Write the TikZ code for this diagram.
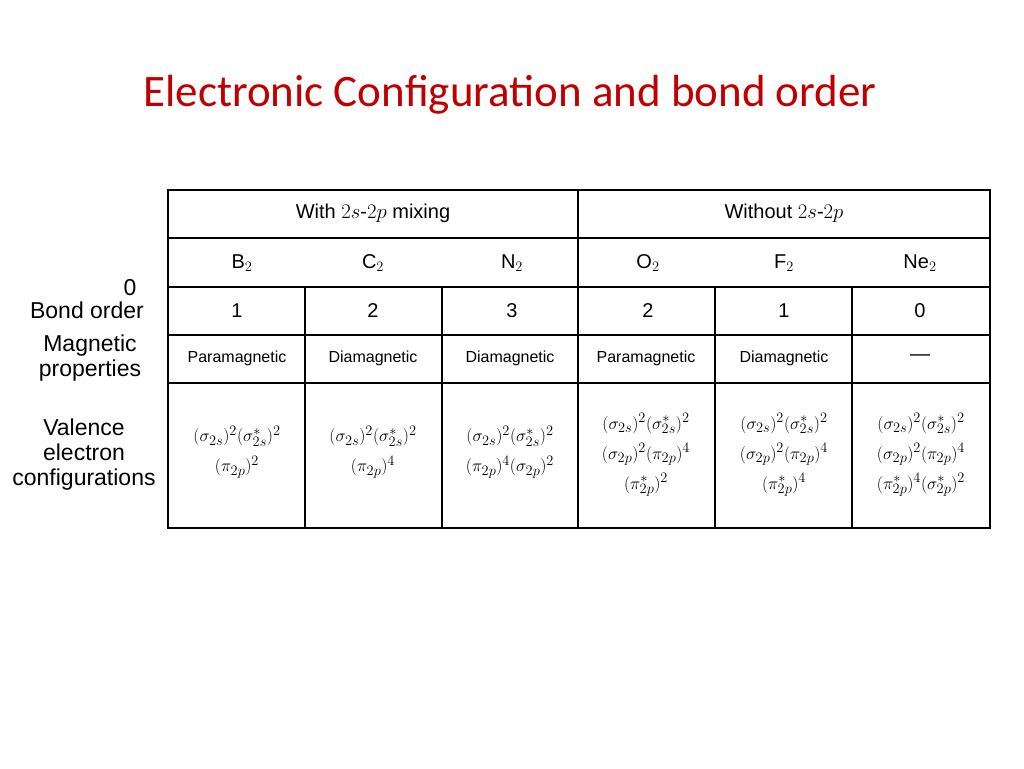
\documentclass[tikz,border=0pt]{standalone}
\usepackage{fontspec}
\setmainfont{Liberation Sans}
\newfontfamily\titlefont{Carlito}
\begin{document}
\begin{tikzpicture}[x=1pt,y=-1pt,
  cell/.style={anchor=center,font=\fontsize{20}{24}\selectfont},
  small/.style={anchor=center,font=\fontsize{16}{18}\selectfont},
  conf/.style={anchor=center,align=center,font=\fontsize{19}{30}\selectfont},
  lab/.style={anchor=center,align=center,font=\fontsize{23}{26}\selectfont}]
\useasboundingbox (0,0) rectangle (1024,768);
\node[font=\titlefont\fontsize{45}{50}\selectfont,text={rgb,255:red,192;green,0;blue,0}] (title) at (510,95) {Electronic Configuration and bond order};
% grid
\draw[line width=2pt] (168,190) rectangle (990,528);
\draw[line width=1.6pt] (168,238) -- (990,238);
\draw[line width=1.6pt] (168,287) -- (990,287);
\draw[line width=1.6pt] (168,335) -- (990,335);
\draw[line width=1.6pt] (168,383) -- (990,383);
\draw[line width=1.6pt] (578,190) -- (578,528);
\foreach \x in {305,442,715,852} \draw[line width=1.6pt] (\x,287) -- (\x,528);
% headers
\node[cell] (h1) at (373,213) {With $2s$-$2p$ mixing};
\node[cell] (h2) at (784,213) {Without $2s$-$2p$};
\node[cell] (m1) at (242,263) {B$_2$};
\node[cell] (m2) at (373,263) {C$_2$};
\node[cell] (m3) at (512,263) {N$_2$};
\node[cell] (m4) at (648,263) {O$_2$};
\node[cell] (m5) at (784,263) {F$_2$};
\node[cell] (m6) at (920,263) {Ne$_2$};
\node[cell] (b1) at (237,311) {1};
\node[cell] (b2) at (373,311) {2};
\node[cell] (b3) at (512,311) {3};
\node[cell] (b4) at (648,311) {2};
\node[cell] (b5) at (784,311) {1};
\node[cell] (b6) at (920,311) {0};
\node[small] (p1) at (237,358) {Paramagnetic};
\node[small] (p2) at (373,358) {Diamagnetic};
\node[small] (p3) at (510,358) {Diamagnetic};
\node[small] (p4) at (646,358) {Paramagnetic};
\node[small] (p5) at (784,358) {Diamagnetic};
\node[cell] (p6) at (920,358) {---};
\node[conf] (c1) at (237,452) {$(\sigma_{2s})^2(\sigma^*_{2s})^2$\\$(\pi_{2p})^2$};
\node[conf] (c2) at (373,452) {$(\sigma_{2s})^2(\sigma^*_{2s})^2$\\$(\pi_{2p})^4$};
\node[conf] (c3) at (510,452) {$(\sigma_{2s})^2(\sigma^*_{2s})^2$\\$(\pi_{2p})^4(\sigma_{2p})^2$};
\node[conf] (c4) at (646,455) {$(\sigma_{2s})^2(\sigma^*_{2s})^2$\\$(\sigma_{2p})^2(\pi_{2p})^4$\\$(\pi^*_{2p})^2$};
\node[conf] (c5) at (784,455) {$(\sigma_{2s})^2(\sigma^*_{2s})^2$\\$(\sigma_{2p})^2(\pi_{2p})^4$\\$(\pi^*_{2p})^4$};
\node[conf] (c6) at (921,455) {$(\sigma_{2s})^2(\sigma^*_{2s})^2$\\$(\sigma_{2p})^2(\pi_{2p})^4$\\$(\pi^*_{2p})^4(\sigma^*_{2p})^2$};
% left labels
\node[lab] (l0) at (130,288) {0};
\node[lab] (l1) at (87,310) {Bond order};
\node[lab,font=\fontsize{23}{25}\selectfont] (l2) at (90,358) {Magnetic\\properties};
\node[lab,font=\fontsize{23}{25}\selectfont] (l3) at (84,455) {Valence\\electron\\configurations};
\end{tikzpicture}
\end{document}
